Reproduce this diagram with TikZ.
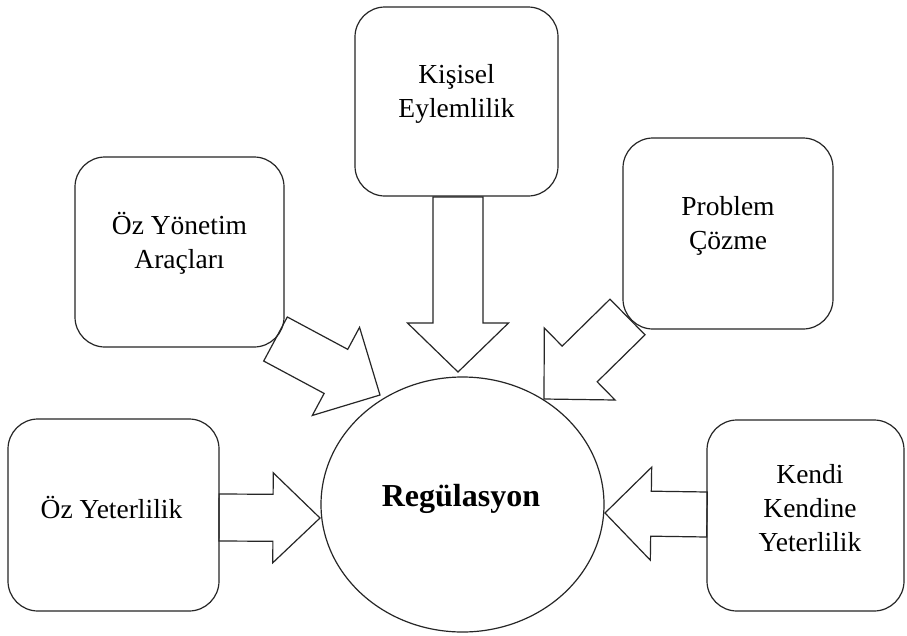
\documentclass[tikz,border=0pt]{standalone}
\usepackage{fontspec}
\setmainfont{Liberation Serif}
\usetikzlibrary{calc,shapes.geometric}

% Block arrow from #1 (tail) to #2 (tip):
% #3 shaft half-width, #4 head half-width, #5 head length
\newcommand\blockarrow[5]{%
  \coordinate (#1h) at ($(#2)!#5!(#1)$);
  \draw[blockarr]
    ($(#1)!#3!90:(#2)$) -- ($(#1h)!#3!90:(#2)$) -- ($(#1h)!#4!90:(#2)$)
    -- (#2)
    -- ($(#1h)!#4!-90:(#2)$) -- ($(#1h)!#3!-90:(#2)$) -- ($(#1)!#3!-90:(#2)$)
    -- cycle;}

\begin{document}
\begin{tikzpicture}[x=1pt,y=-1pt,
  line join=miter,
  ink/.style={draw=black!85, line width=1.2pt},
  boxnode/.style={ink, rectangle, rounded corners=30pt, inner sep=0pt},
  lbl/.style={font=\fontsize{27.5}{34}\selectfont, align=center, inner sep=0pt},
  blockarr/.style={ink}]

\fill[white] (0,0) rectangle (907,635);
\useasboundingbox (0,0) rectangle (907,635);

% centre circle
\node[ink, ellipse, minimum width=283pt, minimum height=255pt, inner sep=0pt]
  (reg) at (462.5,504.5) {};
\node[font=\bfseries\fontsize{32}{36}\selectfont, inner sep=0pt]
  (regt) at (461,499) {Regülasyon};

% surrounding boxes
\node[boxnode, minimum width=203pt, minimum height=189pt] (kis)   at (456.5,101.5) {};
\node[boxnode, minimum width=209pt, minimum height=190pt] (ozyon) at (179.5,252) {};
\node[boxnode, minimum width=210pt, minimum height=191pt] (prob)  at (728,233.5) {};
\node[boxnode, minimum width=211pt, minimum height=192pt] (ozyet) at (113.5,515) {};
\node[boxnode, minimum width=197pt, minimum height=191pt] (kendi) at (805.5,515.5) {};

% box labels
\node[lbl] (kist)   at ([yshift=8pt]kis.center)   {Kişisel\\Eylemlilik};
\node[lbl] (ozyont) at ([yshift=9pt]ozyon.center) {Öz Yönetim\\Araçları};
\node[lbl] (probt)  at ([yshift=8pt]prob.center)  {Problem\\Çözme};
\node[lbl] (ozyett) at ([yshift=8pt,xshift=-2pt]ozyet.center) {Öz Yeterlilik};
\node[lbl] (kendit) at ([yshift=7pt,xshift=4.5pt]kendi.center) {Kendi\\Kendine\\Yeterlilik};

% arrow ends
\coordinate (aT)  at (458,197);   \coordinate (aTtip)  at (458,372);
\coordinate (aUL) at (275.5,339); \coordinate (aULtip) at (380,395);
\coordinate (aUR) at (627.5,317); \coordinate (aURtip) at (544,399);
\coordinate (aBL) at (219,517.5); \coordinate (aBLtip) at (320,518);
\coordinate (aBR) at (707,514.5); \coordinate (aBRtip) at (605,513);

\blockarrow{aT}{aTtip}{25pt}{50.5pt}{49pt}
\blockarrow{aUL}{aULtip}{25pt}{50pt}{50pt}
\blockarrow{aUR}{aURtip}{25pt}{50.5pt}{50pt}
\blockarrow{aBL}{aBLtip}{23.5pt}{45pt}{47pt}
\blockarrow{aBR}{aBRtip}{22.5pt}{46.5pt}{46pt}
\end{tikzpicture}
\end{document}
